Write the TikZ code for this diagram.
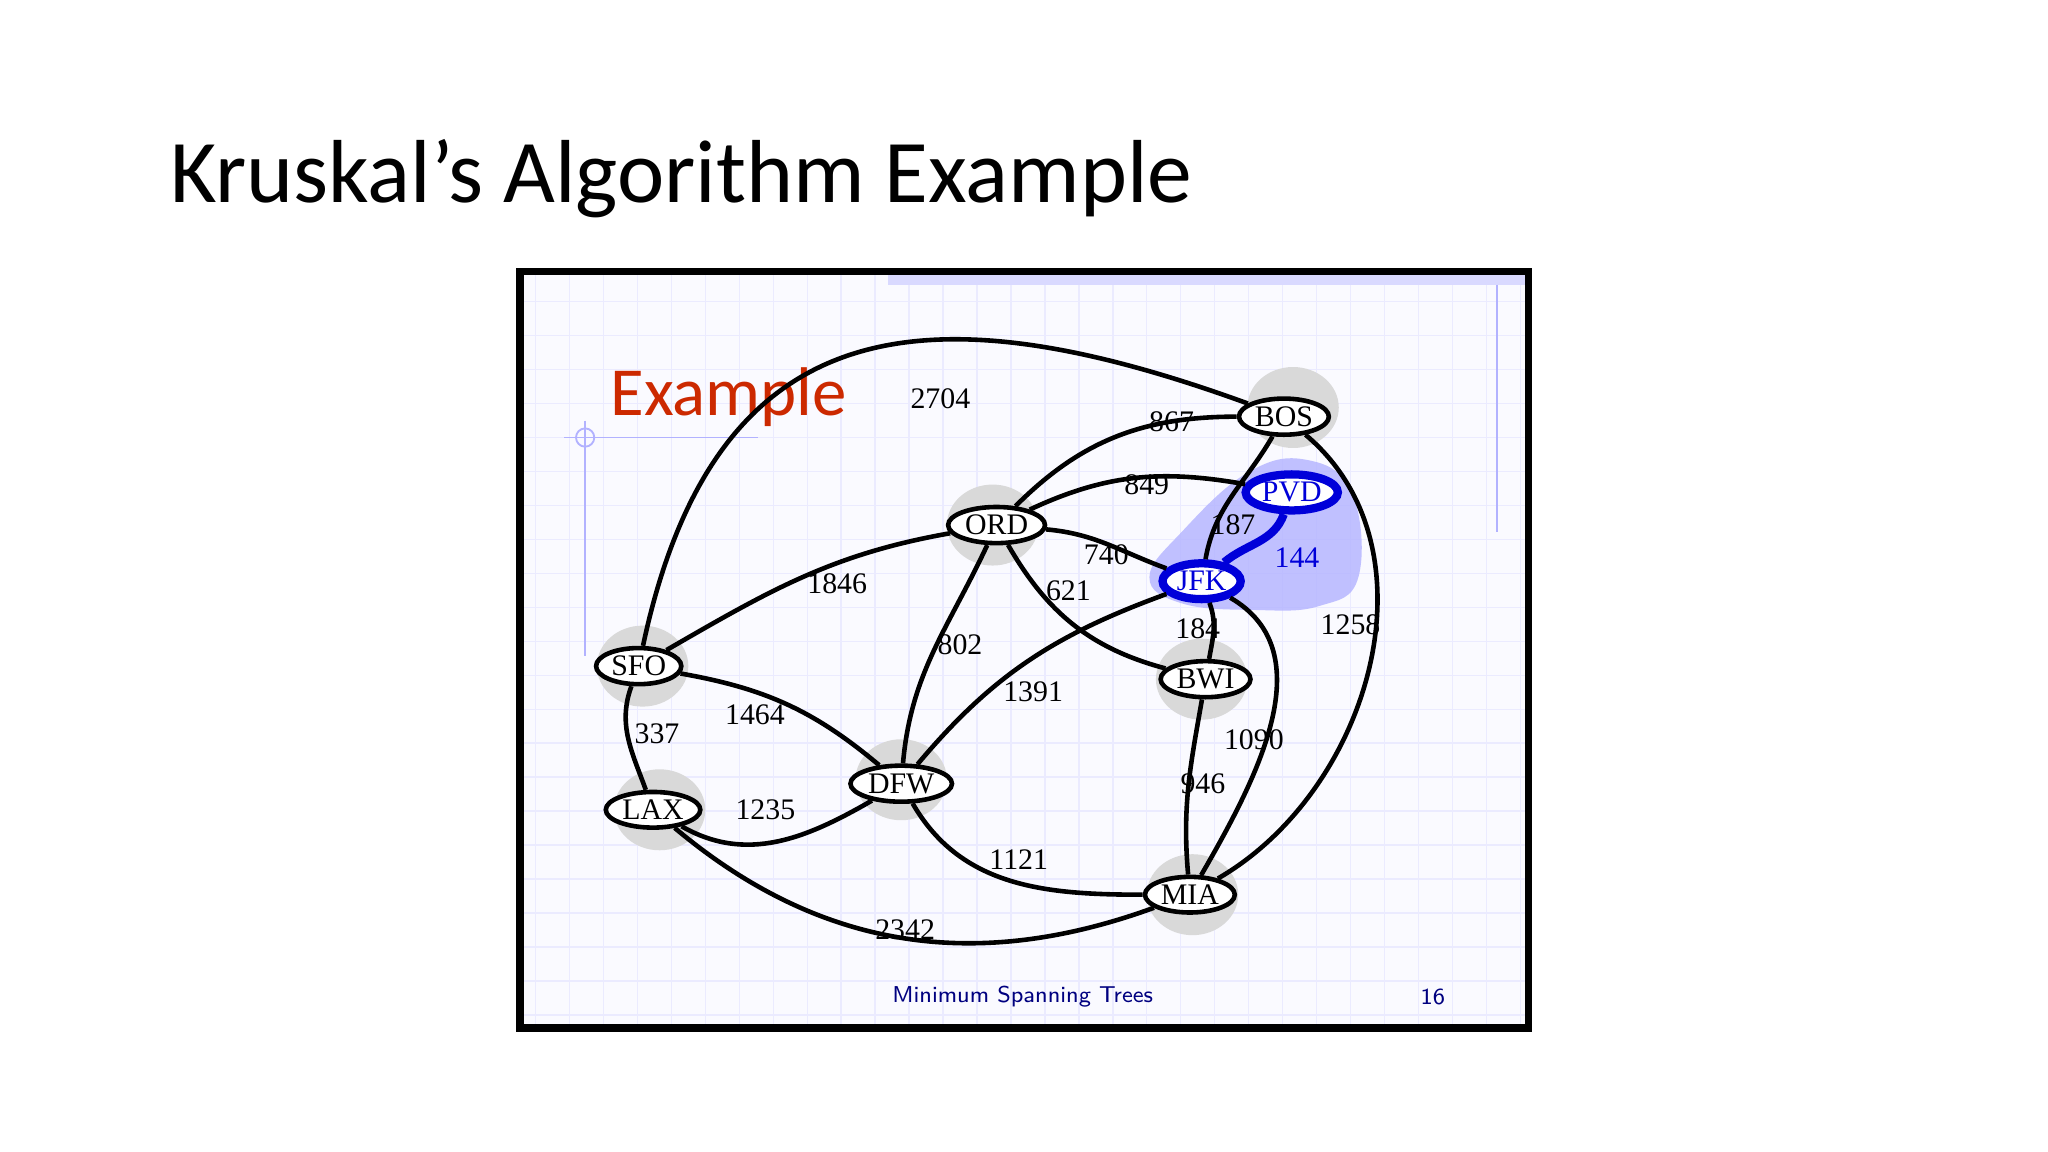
\documentclass[tikz,border=0pt]{standalone}
\usepackage{fontspec}
\setmainfont{Liberation Serif}
\newfontfamily\calfont{Carlito}
\usetikzlibrary{shapes.geometric}
\begin{document}
\begin{tikzpicture}[x=0.1mm,y=0.1mm,
  city/.style={ellipse,draw,line width=1pt,fill=white,inner sep=0.6pt,font=\fontsize{6.5}{7}\selectfont},
  halo/.style={ellipse,fill=gray!30,minimum width=7mm,minimum height=6.2mm},
  bluecity/.style={city,draw=blue!85!black,line width=1.8pt,text=blue!85!black},
  edge/.style={line width=1pt},
  w/.style={font=\fontsize{6.5}{7}\selectfont,inner sep=1pt}]
\useasboundingbox (0,0) rectangle (1568,882);
\fill[white] (0,0) rectangle (1568,882);
\node[anchor=base west,font=\calfont\fontsize{19.5}{22}\selectfont] (title) at (118,727) {Kruskal’s Algorithm Example};
% frame
\fill[blue!2] (398,95) rectangle (1170,674);
\foreach \x in {410,436,...,1170} \draw[blue!8,line width=0.3pt] (\x,95) -- (\x,674);
\foreach \y in {105,131,...,674} \draw[blue!8,line width=0.3pt] (398,\y) -- (1170,\y);
\fill[blue!15] (680,664) rectangle (1170,674);
\draw[blue!30] (1146,664) -- (1146,475);
\draw[blue!30] (432,547) -- (580,547);
\draw[blue!30] (448,560) -- (448,380);
\draw[blue!30] (448,547) circle (7);
\node[anchor=base west,font=\calfont\fontsize{15}{16}\selectfont,text=red!60!orange!80!black] (ex) at (455,564) {Example};
\node[font=\sffamily\fontsize{5}{6}\selectfont,text=blue!50!black] (foot) at (783,119) {Minimum Spanning Trees};
\node[font=\sffamily\fontsize{5}{6}\selectfont,text=blue!50!black] (pg) at (1097,119) {16};
% blue region
\fill[blue!30,opacity=0.8] plot[smooth cycle,tension=0.7] coordinates {(880,440) (905,475) (955,520) (1000,530) (1035,505) (1040,440) (1010,418) (960,415) (905,420)};
% halos
\foreach \p in {(990,570),(760,480),(492,372),(920,362),(690,285),(505,262),(913,197)} \node[halo] at \p {};
% nodes
\node[city] (BOS) at (983,563) {BOS};
\node[bluecity] (PVD) at (989,505) {PVD};
\node[city] (ORD) at (763,480) {ORD};
\node[bluecity] (JFK) at (920,437) {JFK};
\node[city] (SFO) at (489,372) {SFO};
\node[city] (BWI) at (923,362) {BWI};
\node[city] (DFW) at (690,282) {DFW};
\node[city] (LAX) at (500,262) {LAX};
\node[city] (MIA) at (911,197) {MIA};
\draw[edge] (SFO) to[out=78,in=160,looseness=1.35] (BOS);
\draw[edge] (ORD) to[out=45,in=180] (BOS);
\draw[edge] (ORD) to[out=25,in=170] (PVD);
\draw[edge] (ORD) to[out=-5,in=160] (JFK);
\draw[edge] (ORD) to[out=-60,in=165] (BWI);
\draw[edge] (ORD) to[out=190,in=30] (SFO);
\draw[edge] (ORD) to[out=-115,in=85] (DFW);
\draw[edge] (JFK) to[out=80,in=-120] (BOS);
\draw[edge,draw=blue!85!black,line width=1.8pt] (JFK) to[out=40,in=-110] (PVD);
\draw[edge] (JFK) to[out=-70,in=80] (BWI);
\draw[edge] (JFK) to[out=200,in=50] (DFW);
\draw[edge] (JFK) to[out=-30,in=60] (MIA);
\draw[edge] (BOS) to[out=-40,in=30] (MIA);
\draw[edge] (SFO) to[out=-110,in=110] (LAX);
\draw[edge] (SFO) to[out=-10,in=140] (DFW);
\draw[edge] (LAX) to[out=-30,in=-150] (DFW);
\draw[edge] (LAX) to[out=-40,in=-160] (MIA);
\draw[edge] (DFW) to[out=-60,in=180] (MIA);
\draw[edge] (BWI) to[out=-100,in=95] (MIA);
% weights
\node[w] (w1) at (720,577) {2704};
\node[w] (w2) at (897,559) {867};
\node[w] (w3) at (878,511) {849};
\node[w] (w4) at (847,457) {740};
\node[w] (w5) at (818,430) {621};
\node[w] (w6) at (641,435) {1846};
\node[w] (w7) at (735,388) {802};
\node[w] (w8) at (944,480) {187};
\node[w,text=blue!85!black] (w9) at (993,455) {144};
\node[w] (w10) at (917,401) {184};
\node[w] (w11) at (791,352) {1391};
\node[w] (w12) at (960,316) {1090};
\node[w] (w13) at (1034,404) {1258};
\node[w] (w14) at (503,320) {337};
\node[w] (w15) at (578,335) {1464};
\node[w] (w16) at (586,262) {1235};
\node[w] (w17) at (693,170) {2342};
\node[w] (w18) at (780,224) {1121};
\node[w] (w19) at (921,282) {946};
\draw[line width=1.6pt] (398,95) rectangle (1170,674);
\end{tikzpicture}
\end{document}
